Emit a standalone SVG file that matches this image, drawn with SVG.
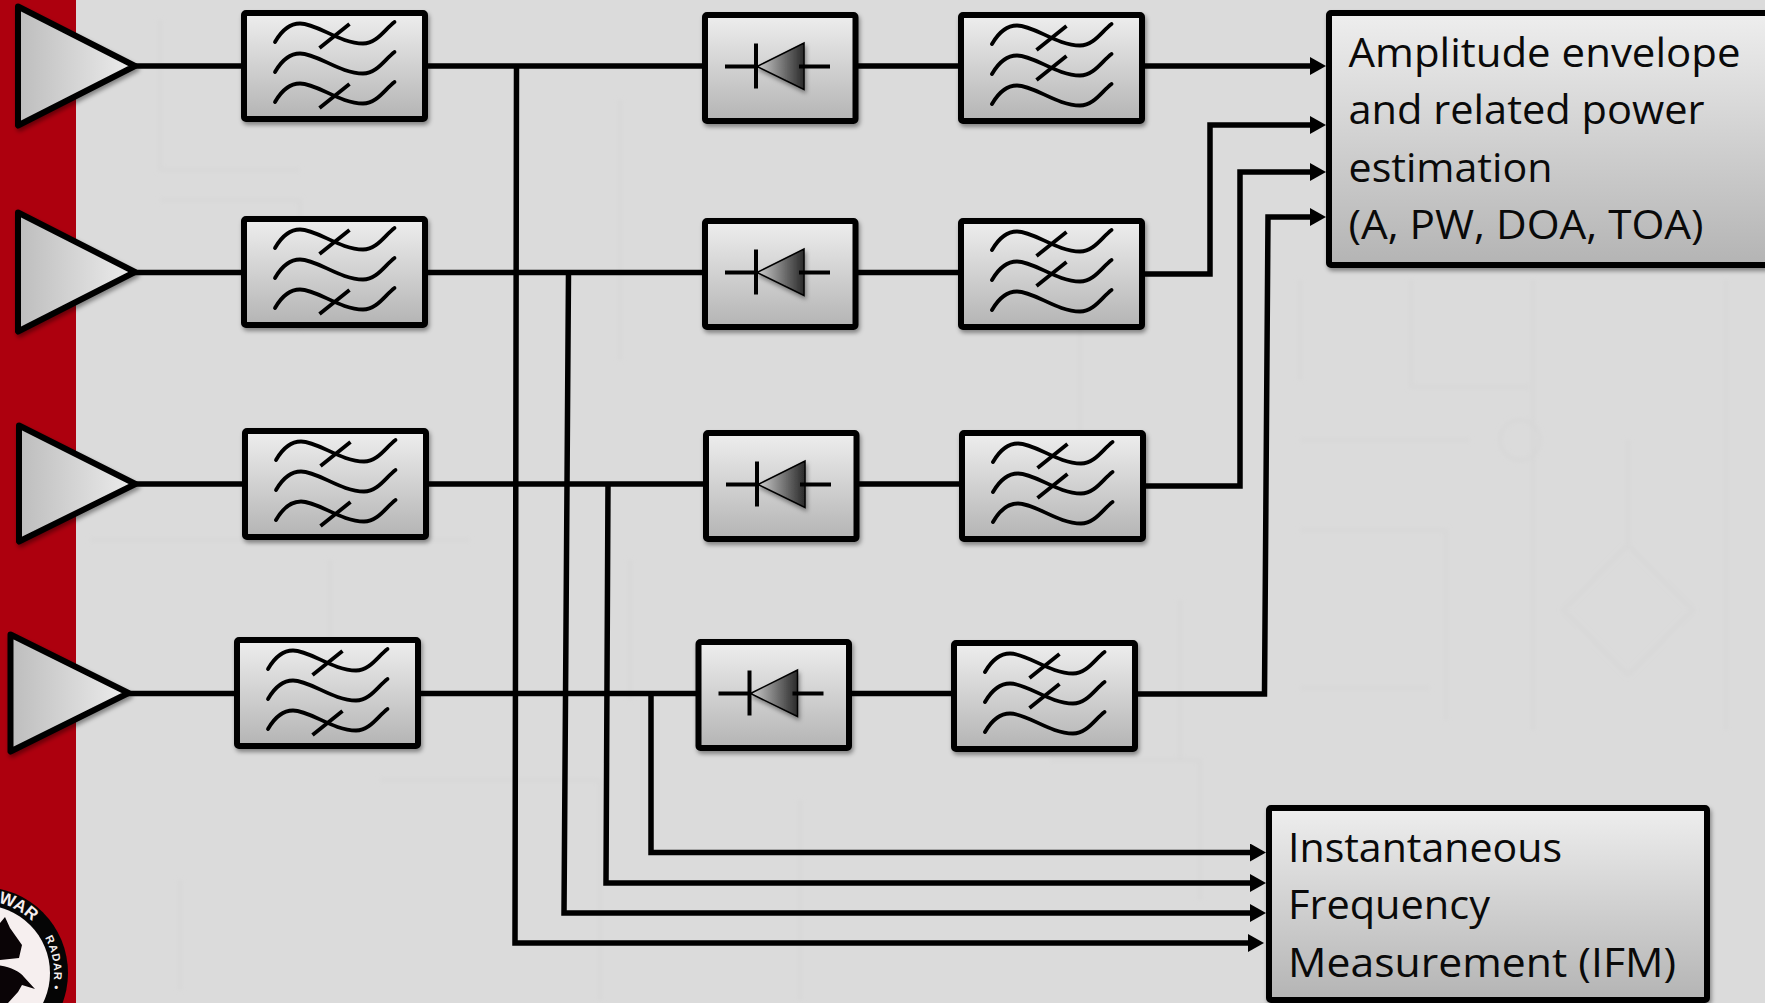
<svg xmlns="http://www.w3.org/2000/svg" width="1765" height="1003" viewBox="0 0 1765 1003">
<style>
.box{fill:url(#gv);stroke:#000;stroke-width:6;stroke-linejoin:round;filter:url(#sh)}
.amp{fill:url(#gh);stroke:#000;stroke-width:6;stroke-linejoin:round;filter:url(#sh)}
.w{fill:none;stroke:#000;stroke-width:3.800;stroke-linecap:round}
.s{fill:none;stroke:#000;stroke-width:3.800}
.d{fill:none;stroke:#000;stroke-width:4}
.wire{fill:none;stroke:#000;stroke-width:5.500;stroke-linejoin:miter}
.arr{marker-end:url(#ah)}
.t{font-family:"Open Sans","Noto Sans",sans-serif;font-size:41px;fill:#0a0a0a}
.faint{fill:none;stroke:#d7d7d7;stroke-width:3}
.lg{font-family:"Liberation Sans",sans-serif;font-weight:bold;fill:#f5eeee}
</style>
<defs>
<linearGradient id="gv" x1="0" y1="0" x2="0" y2="1"><stop offset="0" stop-color="#eeeeee"/><stop offset="1" stop-color="#b4b4b4"/></linearGradient>
<linearGradient id="gh" x1="0" y1="0" x2="1" y2="0"><stop offset="0" stop-color="#bdbdbd"/><stop offset="1" stop-color="#ededed"/></linearGradient>
<linearGradient id="gd" x1="0" y1="0" x2="1" y2="0"><stop offset="0" stop-color="#cfcfcf"/><stop offset="1" stop-color="#2a2a2a"/></linearGradient>
<filter id="sh" x="-15%" y="-15%" width="130%" height="135%"><feDropShadow dx="1.500" dy="3" stdDeviation="2" flood-color="#000" flood-opacity=".4"/></filter>
<filter id="bl" x="-5%" y="-5%" width="110%" height="110%"><feGaussianBlur stdDeviation="2"/></filter>
<marker id="ah" markerUnits="userSpaceOnUse" markerWidth="16" markerHeight="18" viewBox="0 0 16 18" refX="8" refY="9" orient="auto"><path d="M0 0L16 9L0 18Z" fill="#000"/></marker>
<path id="wave" class="w" d="M31 29C39 15 47 10.500 56 10.500C73 10.500 96 30.500 119 30.500C133 30.500 141 16 150.500 9"/>
<path id="slash" class="s" d="M75.500 35L105.500 11"/>
<g id="filterA">
<rect class="box" width="181" height="106" rx="2"/>
<use href="#wave"/><use href="#wave" y="30"/><use href="#wave" y="60"/>
<use href="#slash"/><use href="#slash" y="60"/>
</g>
<g id="filterB">
<rect class="box" width="181" height="106" rx="2"/>
<use href="#wave"/><use href="#wave" y="30"/><use href="#wave" y="60"/>
<use href="#slash"/><use href="#slash" y="30"/>
</g>
<g id="diode">
<rect class="box" width="150.500" height="106" rx="2"/>
<path d="M52 51.500L99 28V74.500Z" fill="url(#gd)" stroke="#000" stroke-width="1.500" filter="url(#sh)"/>
<path class="d" d="M20 51.500H51M51 28.500V73.500M94 51.500H125"/>
</g>
<clipPath id="lc"><circle cx="-18" cy="973" r="68"/></clipPath>
</defs>

<rect id="background" width="1765" height="1003" fill="#dbdbdb"/>
<g id="watermark" class="faint" filter="url(#bl)">
<path d="M1628 545L1693 610L1628 675L1563 610Z"/>
<path d="M1533 280V730M1300 440H1470M1411 280V387H1530M1628 440V545M1726 280V730"/>
<circle cx="1520" cy="440" r="20"/>
<path d="M1300 530H1446V680M1300 688H1430M1446 620V720"/>
<path d="M160 20V170H300M160 200H300V330M620 100V360M90 540H470M330 560V720M630 560V700M1080 320V540M1180 600V760M380 780H600V1000M800 800V1000M1050 760H1200V900M1300 280V380M180 880V990"/>
</g>
<rect id="red-band" width="76" height="1003" fill="#ad000e"/>

<g id="logo">
<circle cx="-18" cy="973" r="86" fill="#050505"/>
<circle cx="-18" cy="973" r="68" fill="#f6efef"/>
<g clip-path="url(#lc)" fill="#0a0406">
<path d="M-10 935L5 917L10 928L22 945L19 958L0 960L-10 955Z"/>
<path d="M-20 965C0 963 18 969 24 977L35 989L22 985L18 992L8 1003H-20Z"/>
</g>
<path id="lp1" d="M-18 901A72 72 0 0 1 54 973A72 72 0 0 1 -18 1045" fill="none"/>
<text class="lg" font-size="17"><textPath href="#lp1" startOffset="16">WAR</textPath></text>
<text class="lg" font-size="11" letter-spacing="1"><textPath href="#lp1" startOffset="76">RADAR •</textPath></text>
</g>

<g id="connectors">
<path class="wire" d="M132 66H244M425 66H705M857 66H961"/>
<path class="wire arr" d="M1142 66H1318"/>
<path class="wire" d="M132 272.500H244M425 272.500H705M857 272.500H961"/>
<path class="wire" d="M132 484H245M426 484H707M859 484H962"/>
<path class="wire" d="M125 693.500H237M418 693.500H699M851 693.500H954"/>
<path class="wire arr" d="M1142 274H1210V125H1318"/>
<path class="wire arr" d="M1143 486H1240V172H1318"/>
<path class="wire arr" d="M1135 694H1264.500L1268 217H1318"/>
<path class="wire arr" d="M516.500 66L515 943H1256"/>
<path class="wire arr" d="M568.500 272L564 913H1258"/>
<path class="wire arr" d="M608 484L606 883H1258"/>
<path class="wire arr" d="M651 694V852.500H1258"/>
</g>

<g id="amp1"><polygon class="amp" points="18,6.500 135,66 18,125.500"/></g>
<g id="amp2"><polygon class="amp" points="18,212.500 135,272 18,331.500"/></g>
<g id="amp3"><polygon class="amp" points="19,425.500 135.500,484 19,541.500"/></g>
<g id="amp4"><polygon class="amp" points="10.500,634.500 128.500,693 10.500,751.500"/></g>

<g id="filter1"><use href="#filterA" x="244" y="13"/></g>
<g id="filter2"><use href="#filterA" x="244" y="219"/></g>
<g id="filter3"><use href="#filterA" x="245" y="431"/></g>
<g id="filter4"><use href="#filterA" x="237" y="640"/></g>

<g id="diode1"><use href="#diode" x="705" y="15"/></g>
<g id="diode2"><use href="#diode" x="705" y="221"/></g>
<g id="diode3"><use href="#diode" x="706" y="433"/></g>
<g id="diode4"><use href="#diode" x="698.500" y="642"/></g>

<g id="lpf1"><use href="#filterB" x="961" y="15"/></g>
<g id="lpf2"><use href="#filterB" x="961" y="221"/></g>
<g id="lpf3"><use href="#filterB" x="962" y="433"/></g>
<g id="lpf4"><use href="#filterB" x="954" y="643"/></g>

<g id="box-amplitude">
<rect class="box" x="1329" y="13" width="460" height="252" rx="2"/>
<text class="t" x="1348.500" y="67" textLength="392" lengthAdjust="spacingAndGlyphs">Amplitude envelope</text>
<text class="t" x="1348.500" y="124" textLength="356" lengthAdjust="spacingAndGlyphs">and related power</text>
<text class="t" x="1348.500" y="182" textLength="204" lengthAdjust="spacingAndGlyphs">estimation</text>
<text class="t" x="1348.500" y="239" textLength="355" lengthAdjust="spacingAndGlyphs">(A, PW, DOA, TOA)</text>
</g>
<g id="box-ifm">
<rect class="box" x="1269" y="808" width="438" height="192" rx="2"/>
<text class="t" x="1288" y="862" textLength="274" lengthAdjust="spacingAndGlyphs">Instantaneous</text>
<text class="t" x="1288" y="919" textLength="202" lengthAdjust="spacingAndGlyphs">Frequency</text>
<text class="t" x="1288" y="977" textLength="388" lengthAdjust="spacingAndGlyphs">Measurement (IFM)</text>
</g>
</svg>
